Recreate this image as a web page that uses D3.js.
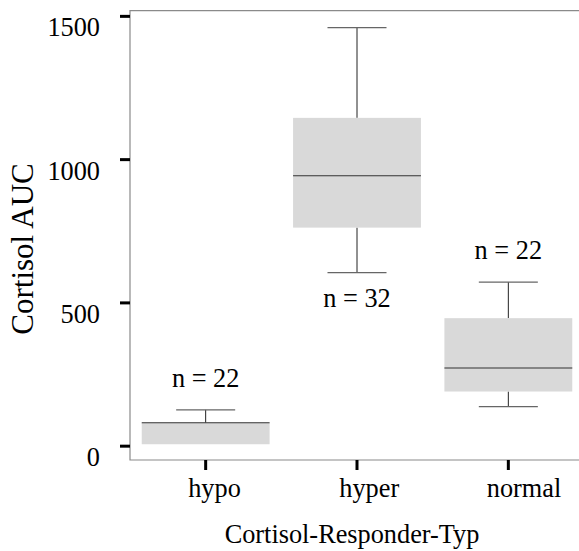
<!DOCTYPE html>
<html>
<head>
<meta charset="utf-8">
<script src="https://d3js.org/d3.v7.min.js"></script>
<style type="text/css">
	body { margin: 0; background: #fff; }
	svg text { font-family: "Liberation Serif", "Times New Roman", Times, "DejaVu Serif", serif !important; fill: #000; }
</style>
</head>
<body>
<script type="text/javascript">

// data
var groups  = ["hypo", "hyper", "normal"];
var counts  = [22, 32, 22];
var whiskLo = [5, 604, 136];
var q1      = [5, 761, 189];
var median  = [80, 942, 271];
var q3      = [80, 1144, 445];
var whiskHi = [125, 1459, 571];
var yTicks  = [0, 500, 1000, 1500];

var width = 579,
	height = 551,
	fs = 26.3;

var svg = d3.select('body').append('svg')
	.attr('width', width)
	.attr('height', height)

var x = d3.scaleBand()
	.domain(groups)
	.range([130, 584])
	.padding(0)

// category labels sit a little right of their ticks in the original
var xLab = d3.scalePoint()
	.domain(groups)
	.range([214.5, 524])

var y = d3.scaleLinear()
	.domain([-50, 1518])
	.range([460, 10.7])

var boxW = x.bandwidth() * 0.845,
	capW = x.bandwidth() * 0.39;

// plot frame (right side falls outside the picture)
svg.append('path')
	.attr('d', 'M' + x.range()[1] + ',' + y(1518) + 'H130V' + y(-50) + 'H' + x.range()[1])
	.attr('fill', 'none')
	.attr('stroke', '#8a8a8a')
	.attr('stroke-width', 1.2)

var yAxis = d3.axisLeft(y)
	.tickValues(yTicks)
	.tickFormat(d3.format('d'))
	.tickSize(10)
	.tickPadding(20)

var gy = svg.append('g')
	.attr('transform', 'translate(130,0)')
	.call(yAxis)
gy.attr('font-family', null)
gy.select('.domain').remove()
gy.selectAll('line').attr('stroke', '#000').attr('stroke-width', 3)
gy.selectAll('text')
	.attr('font-size', fs)
	.attr('dy', 20)

var xAxis = d3.axisBottom(x)
	.tickSize(10)
	.tickPadding(12)

var gx = svg.append('g')
	.attr('transform', 'translate(0,460)')
	.call(xAxis)
gx.attr('font-family', null)
gx.select('.domain').remove()
gx.selectAll('line').attr('stroke', '#000').attr('stroke-width', 3)
gx.selectAll('text')
	.attr('font-size', fs)
	.attr('dy', null)
	.attr('y', 37)
	.attr('x', function(d){ return xLab(d) - (x(d) + x.bandwidth()/2); })

var data = groups.map(function(g, i) {
	return {g: g, n: counts[i], lo: whiskLo[i], q1: q1[i], med: median[i], q3: q3[i], hi: whiskHi[i]};
});

var box = svg.selectAll('.box')
	.data(data)
	.enter().append('g').classed('box', true)
	.attr('transform', function(d){ return 'translate(' + (x(d.g) + x.bandwidth()/2) + ',0)'; })

// whiskers
box.append('line')
	.attr('x1', 0).attr('x2', 0)
	.attr('y1', function(d){ return y(d.hi); })
	.attr('y2', function(d){ return y(d.q3); })
	.attr('stroke', '#222')
box.append('line')
	.attr('x1', 0).attr('x2', 0)
	.attr('y1', function(d){ return y(d.q1); })
	.attr('y2', function(d){ return y(d.lo); })
	.attr('stroke', '#222')

box.append('rect')
	.attr('x', -boxW/2)
	.attr('width', boxW)
	.attr('y', function(d){ return y(d.q3); })
	.attr('height', function(d){ return y(d.q1) - y(d.q3); })
	.attr('fill', '#d9d9d9')

box.append('line')
	.attr('x1', -boxW/2).attr('x2', boxW/2)
	.attr('y1', function(d){ return y(d.med); })
	.attr('y2', function(d){ return y(d.med); })
	.attr('stroke', '#333')
	.attr('stroke-width', 1.2)

// caps
box.append('line')
	.attr('x1', -capW/2).attr('x2', capW/2)
	.attr('y1', function(d){ return y(d.hi); })
	.attr('y2', function(d){ return y(d.hi); })
	.attr('stroke', '#666')
	.attr('stroke-width', 1.2)
box.filter(function(d){ return d.lo < d.q1; })
	.append('line')
	.attr('x1', -capW/2).attr('x2', capW/2)
	.attr('y1', function(d){ return y(d.lo); })
	.attr('y2', function(d){ return y(d.lo); })
	.attr('stroke', '#666')
	.attr('stroke-width', 1.2)

// n labels: above the box, except hyper which sits below
box.append('text')
	.attr('text-anchor', 'middle')
	.attr('font-size', fs)
	.attr('y', function(d){ return d.g === 'hyper' ? y(d.lo) + 34 : y(d.hi) - 23; })
	.text(function(d){ return 'n = ' + d.n; })

svg.append('text')
	.attr('text-anchor', 'middle')
	.attr('font-size', fs)
	.attr('x', 352)
	.attr('y', 543)
	.text('Cortisol-Responder-Typ')

svg.append('text')
	.attr('text-anchor', 'middle')
	.attr('font-size', 31)
	.attr('transform', 'translate(33,249) rotate(-90)')
	.text('Cortisol AUC')

</script>
</body>
</html>
